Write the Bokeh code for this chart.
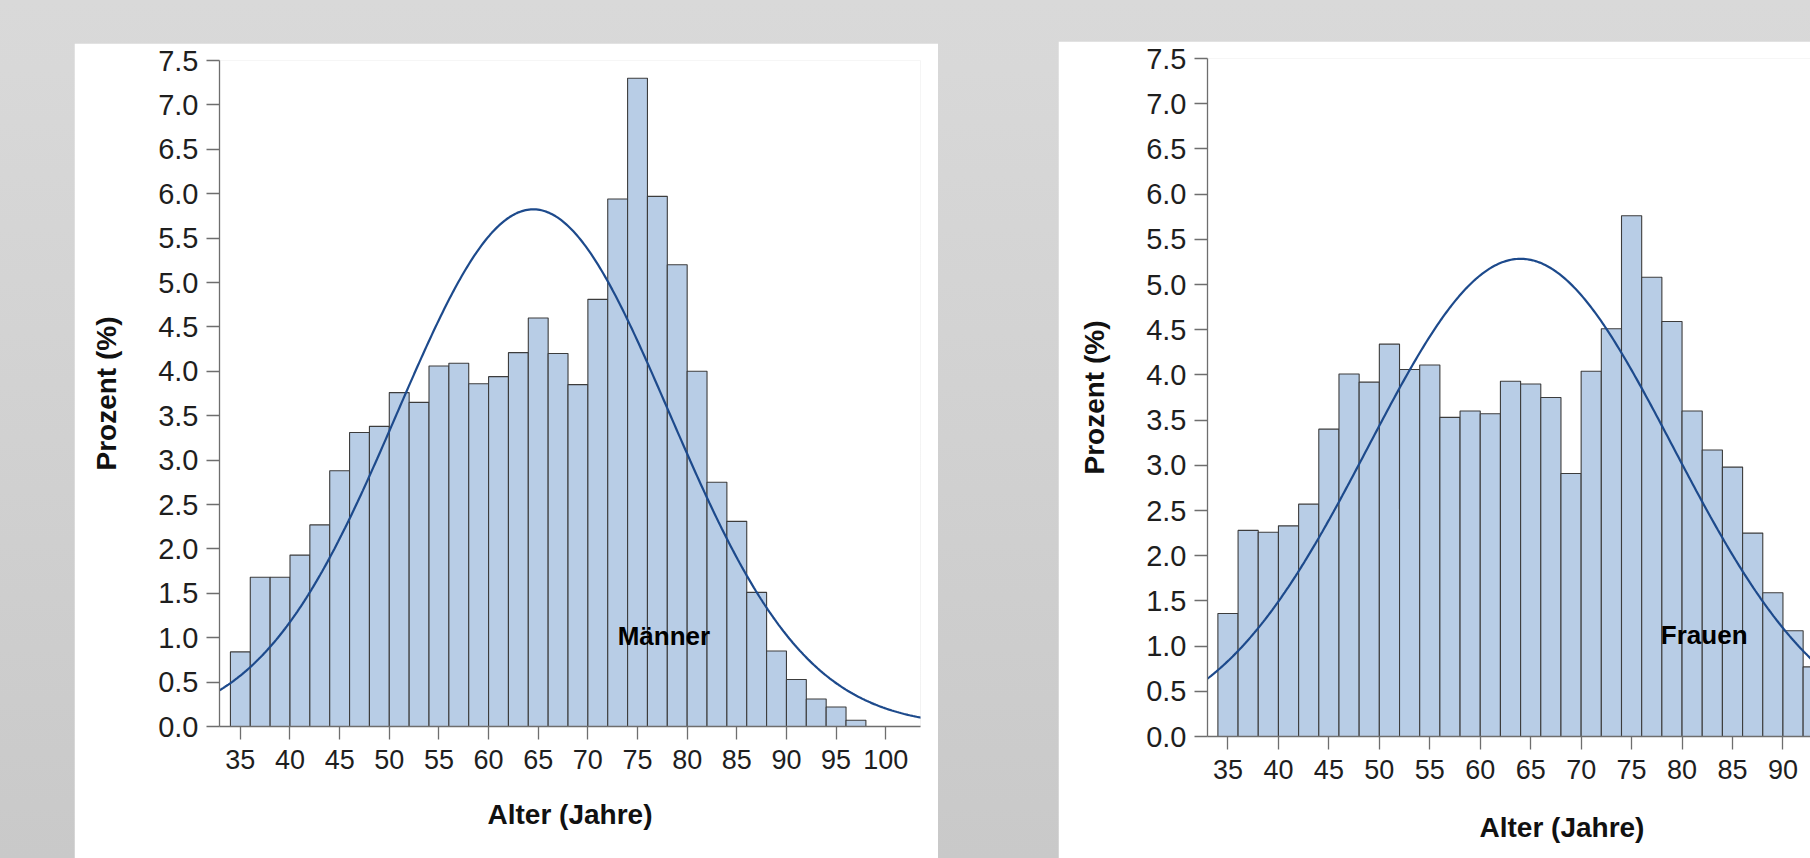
import numpy as np
from bokeh.plotting import figure
from bokeh.layouts import row, column
from bokeh.models import (FixedTicker, PrintfTickFormatter, Label, Spacer, Title,
                          Legend, LegendItem)
from bokeh.embed import file_html
from bokeh.resources import INLINE

# ---------------- data ----------------
bin_start = 34          # first bin left edge (years)
bin_width = 2           # years per bin
maenner_pct = [0.84, 1.68, 1.68, 1.93, 2.27, 2.88, 3.31, 3.38, 3.76, 3.65,
               4.06, 4.09, 3.86, 3.94, 4.21, 4.60, 4.20, 3.85, 4.81, 5.94,
               7.30, 5.97, 5.20, 4.00, 2.75, 2.31, 1.51, 0.85, 0.53, 0.31,
               0.22, 0.07]
frauen_pct = [1.36, 2.28, 2.26, 2.33, 2.57, 3.40, 4.01, 3.92, 4.34, 4.06,
              4.11, 3.53, 3.60, 3.57, 3.93, 3.90, 3.75, 2.91, 4.04, 4.51,
              5.76, 5.08, 4.59, 3.60, 3.17, 2.98, 2.25, 1.59, 1.17, 0.77]
maenner_mean, maenner_sd = 64.5, 13.7   # fitted normal curve (Männer)
frauen_mean, frauen_sd = 64.0, 15.1     # fitted normal curve (Frauen)
x_ticks = [35, 40, 45, 50, 55, 60, 65, 70, 75, 80, 85, 90, 95, 100]
y_ticks = [0.0, 0.5, 1.0, 1.5, 2.0, 2.5, 3.0, 3.5, 4.0, 4.5, 5.0, 5.5, 6.0, 6.5, 7.0, 7.5]
x_label = "Alter (Jahre)"
y_label = "Prozent (%)"
group_labels = ["Männer", "Frauen"]
curve_label = "Normal"

FONT = "Liberation Sans"
BAR_FILL = "#b8cde6"
BAR_LINE = "#3c3c3c"
CURVE = "#1d4a8c"
AXIS = "#6e6e6e"
LABEL_SIZE = "28px"


def style_axes(p):
    for ax in (p.xaxis[0], p.yaxis[0]):
        ax.axis_line_color = AXIS
        ax.axis_line_width = 1.3
        ax.major_tick_line_color = AXIS
        ax.major_tick_line_width = 1.3
        ax.minor_tick_line_color = None
        ax.major_tick_in = 0
        ax.major_tick_out = 13
        ax.major_label_text_font = FONT
        ax.major_label_text_color = "#1e1e1e"
        ax.axis_label_text_font = FONT
        ax.axis_label_text_font_style = "bold"
        ax.axis_label_text_font_size = LABEL_SIZE
        ax.axis_label_text_color = "#111111"
    p.xaxis[0].major_label_text_font_size = "27px"
    p.yaxis[0].major_label_text_font_size = "29px"
    p.xaxis[0].ticker = FixedTicker(ticks=x_ticks)
    p.yaxis[0].ticker = FixedTicker(ticks=y_ticks)
    p.yaxis[0].formatter = PrintfTickFormatter(format="%.1f")
    p.xaxis[0].major_label_standoff = 10
    p.yaxis[0].major_label_standoff = 8
    p.yaxis[0].axis_label_standoff = 33
    p.xaxis[0].axis_label_standoff = 27
    p.grid.visible = False


def make_panel(values, mean, sd, xr, width, height, borders, label, label_xy,
               xlabel_offset=None, legend=False):
    p = figure(width=width, height=height, x_range=xr, y_range=(0, 7.5),
               output_backend="svg", toolbar_location=None,
               min_border_left=borders[0], min_border_right=borders[1],
               min_border_top=borders[2], min_border_bottom=borders[3],
               background_fill_color="white", border_fill_color="white",
               outline_line_color=None)
    left = [bin_start + i * bin_width for i in range(len(values))]
    right = [l + bin_width for l in left]
    p.quad(left=left, right=right, top=values, bottom=0,
           fill_color=BAR_FILL, line_color=BAR_LINE, line_width=1.1)
    xs = np.linspace(xr[0], 104, 400)
    ys = 100.0 * bin_width * np.exp(-0.5 * ((xs - mean) / sd) ** 2) / (sd * np.sqrt(2 * np.pi))
    curve = p.line(xs, ys, line_color=CURVE, line_width=2.2)
    style_axes(p)
    p.yaxis[0].axis_label = y_label
    if xlabel_offset is None:
        p.xaxis[0].axis_label = x_label
    else:
        # thin spacer title pushes the axis title down without growing the panel much
        p.add_layout(Title(text=" ", text_font_size="2px", standoff=24,
                           text_color="white"), "below")
        p.add_layout(Title(text=x_label, align="left", offset=xlabel_offset,
                           standoff=0, text_font=FONT, text_font_style="bold",
                           text_font_size=LABEL_SIZE, text_color="#111111"),
                     "below")
    p.add_layout(Label(x=label_xy[0], y=label_xy[1], text=label,
                       text_font=FONT, text_font_style="bold",
                       text_font_size="26px", text_color="black",
                       text_align="left", text_baseline="middle"))
    if legend:
        lg = Legend(items=[LegendItem(label=curve_label, renderers=[curve])],
                    location=(284, -142), orientation="horizontal",
                    label_text_font=FONT, label_text_font_size="11px",
                    glyph_width=70, glyph_height=10, label_height=10,
                    padding=2, margin=0, spacing=0, label_standoff=6,
                    border_line_color="#444444", border_line_width=1,
                    background_fill_color="white", background_fill_alpha=1.0)
        p.add_layout(lg)
    return p


p1 = make_panel(maenner_pct, maenner_mean, maenner_sd, (32.9, 103.5),
                864, 815, (145, 18, 17, 132), group_labels[0], (73.0, 1.02),
                legend=True)
p2 = make_panel(frauen_pct, frauen_mean, frauen_sd, (32.97, 92.73),
                752, 817, (149, 0, 17, 122), group_labels[1], (77.9, 1.12),
                xlabel_offset=272)

left_col = column(Spacer(width=864, height=43), p1)
right_col = column(Spacer(width=752, height=41), p2)
root = row(Spacer(width=74, height=858), left_col, Spacer(width=120, height=858), right_col,
           styles={"background": "linear-gradient(to bottom, #d9d9d9 0%, #d8d8d8 8%, #c9c9c9 100%)"})

open("out.html", "w").write(file_html(root, INLINE))
